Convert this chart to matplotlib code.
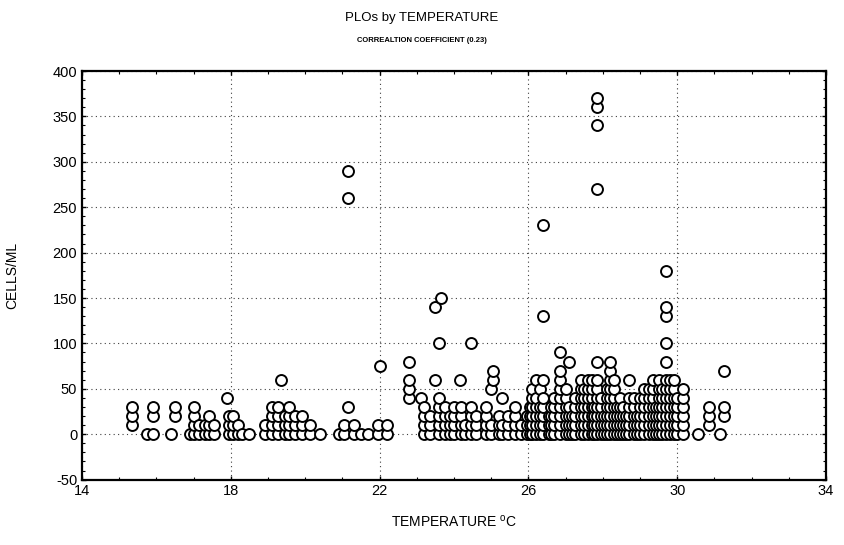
import matplotlib
matplotlib.use("Agg")
import matplotlib.pyplot as plt
from matplotlib.ticker import MultipleLocator

plt.rcParams['font.family'] = ['Liberation Sans', 'DejaVu Sans']
plt.rcParams['mathtext.fontset'] = 'custom'
plt.rcParams['mathtext.rm'] = 'Liberation Sans'
plt.rcParams['axes.unicode_minus'] = False

# columns of points: temperature -> cells/ml readings at that temperature
col_temp = [
    15.35, 15.75, 15.9, 16.4, 16.5, 16.9, 17.0, 17.15, 17.3, 17.4, 17.55,
    17.9, 17.95, 18.05, 18.2, 18.3, 18.5,
    18.92, 19.1, 19.28, 19.35, 19.46, 19.57, 19.73, 19.9, 20.13, 20.4,
    20.9, 21.05, 21.15, 21.3, 21.5, 21.7, 21.95, 22.02, 22.2,
    22.8, 23.1, 23.2, 23.35, 23.5, 23.6, 23.65, 23.75, 23.9, 24.0, 24.15,
    24.2, 24.3, 24.45, 24.6, 24.85, 25.0, 25.06, 25.2, 25.3, 25.45,
    25.65, 25.8, 25.95, 26.05, 26.1, 26.2, 26.3, 26.4, 26.55, 26.62, 26.7,
    26.85, 27.0, 27.1, 27.18, 27.25, 27.4, 27.5, 27.6, 27.7, 27.76, 27.85,
    27.95, 28.02, 28.1, 28.2, 28.3, 28.38, 28.45, 28.55, 28.63, 28.7, 28.85,
    28.93, 29.0, 29.1, 29.25, 29.35, 29.43, 29.5, 29.6, 29.7,
    29.8, 29.9, 30.0, 30.15, 30.55, 30.85, 31.15, 31.25,
]
col_cells = [
    [10, 20, 30], [0], [0, 20, 30], [0], [20, 30], [0], [0, 10, 20, 30],
    [0, 10], [0, 10], [0, 10, 20], [0, 10],
    [40], [0, 10, 20], [0, 10, 20], [0, 10], [0], [0],
    [0, 10], [0, 10, 20, 30], [0, 10, 20, 30], [60], [0, 10, 20],
    [0, 10, 20, 30], [0, 10, 20], [0, 10, 20], [0, 10], [0],
    [0], [0, 10], [30, 260, 290], [0, 10], [0], [0], [0, 10], [75], [0, 10],
    [40, 50, 60, 80], [40], [0, 10, 20, 30], [0, 10, 20], [60, 140],
    [0, 10, 20, 30, 40, 100], [150], [0, 10, 20, 30], [0, 10, 20],
    [0, 10, 20, 30], [60],
    [0, 10, 20, 30], [0, 10], [0, 10, 20, 30, 100], [0, 10, 20],
    [0, 10, 20, 30], [0, 10, 50], [60, 70], [0, 10, 20], [0, 10, 40],
    [0, 10, 20],
    [0, 10, 20, 30], [0, 10], [0, 10, 20], [0, 10, 20, 30],
    [0, 10, 20, 30, 40, 50],
    [0, 10, 20, 30, 40, 60], [0, 10, 20, 30, 50],
    [0, 10, 20, 30, 40, 60, 130, 230], [0, 10, 20], [0, 10, 20, 30],
    [0, 10, 20, 30, 40],
    [0, 10, 20, 30, 40, 50, 60, 70, 90], [0, 10, 20, 30, 40, 50],
    [0, 10, 20, 30, 80], [0, 10, 20], [0, 10, 20, 30, 40],
    [0, 10, 20, 30, 40, 50, 60],
    [0, 10, 20, 30, 40, 50], [0, 10, 20, 30, 40, 50, 60],
    [0, 10, 20, 30, 40, 50, 60], [0, 10, 20, 30],
    [0, 10, 20, 30, 40, 50, 60, 80, 270, 340, 360, 370],
    [0, 10, 20, 30, 40], [0, 10, 20], [0, 10, 20, 30, 40, 50],
    [0, 10, 20, 30, 40, 50, 60, 70, 80], [0, 10, 20, 30, 40, 50, 60],
    [0, 10, 20, 30], [0, 10, 20, 30, 40], [0, 10, 20, 30], [0, 10, 20],
    [0, 10, 20, 30, 40, 60],
    [0, 10, 20, 30, 40], [0, 10, 20], [0, 10, 20, 30, 40],
    [0, 10, 20, 30, 40, 50],
    [0, 10, 20, 30, 40, 50], [0, 10, 20, 30, 40, 50, 60], [0, 10, 20, 30],
    [0, 10, 20, 30, 40, 50, 60], [0, 10, 20, 30, 40, 50],
    [0, 10, 20, 30, 40, 50, 60, 80, 100, 130, 140, 180],
    [0, 10, 20, 30, 40, 50, 60], [0, 10, 20, 30, 40, 50, 60],
    [0, 10, 20, 30, 40], [0, 10, 20, 30, 40, 50], [0], [10, 20, 30], [0],
    [20, 30, 70],
]

x_ticks = [14, 18, 22, 26, 30, 34]
y_ticks = [-50, 0, 50, 100, 150, 200, 250, 300, 350, 400]

temps = []
cells = []
for t, vals in zip(col_temp, col_cells):
    for v in vals:
        temps.append(t)
        cells.append(v)

fig = plt.figure(figsize=(8.44, 5.45), dpi=100)
ax = fig.add_axes([0.0972, 0.12, 0.8815, 0.7497])

ax.scatter(temps, cells, s=62, facecolors='white', edgecolors='black',
           linewidths=1.4, zorder=3)

ax.set_xlim(14, 34)
ax.set_ylim(-50, 400)
ax.set_xticks(x_ticks)
ax.set_yticks(y_ticks)
ax.xaxis.set_minor_locator(MultipleLocator(1))
ax.yaxis.set_minor_locator(MultipleLocator(10))
ax.tick_params(which='both', direction='in', top=True, right=True,
               labelsize=10.5, color='black')
ax.tick_params(which='major', length=3, width=1)
ax.tick_params(which='minor', length=2, width=0.8)
ax.grid(True, which='major', linestyle=(0, (1, 3)), color='0.25',
        linewidth=0.8, zorder=0)
for sp in ax.spines.values():
    sp.set_linewidth(1.6)

ax.set_xlabel('TEMPERATURE $^{\\mathrm{o}}$C', fontsize=10, labelpad=11)
ax.set_ylabel('CELLS/ML', fontsize=10, labelpad=24)

fig.text(0.5, 0.967, 'PLOs by TEMPERATURE', ha='center', va='center',
         fontsize=9.5)
fig.text(0.5, 0.926, 'CORREALTION COEFFICIENT (0.23)', ha='center',
         va='center', fontsize=5.5, fontweight='bold')

fig.savefig('out.png', dpi=100)
